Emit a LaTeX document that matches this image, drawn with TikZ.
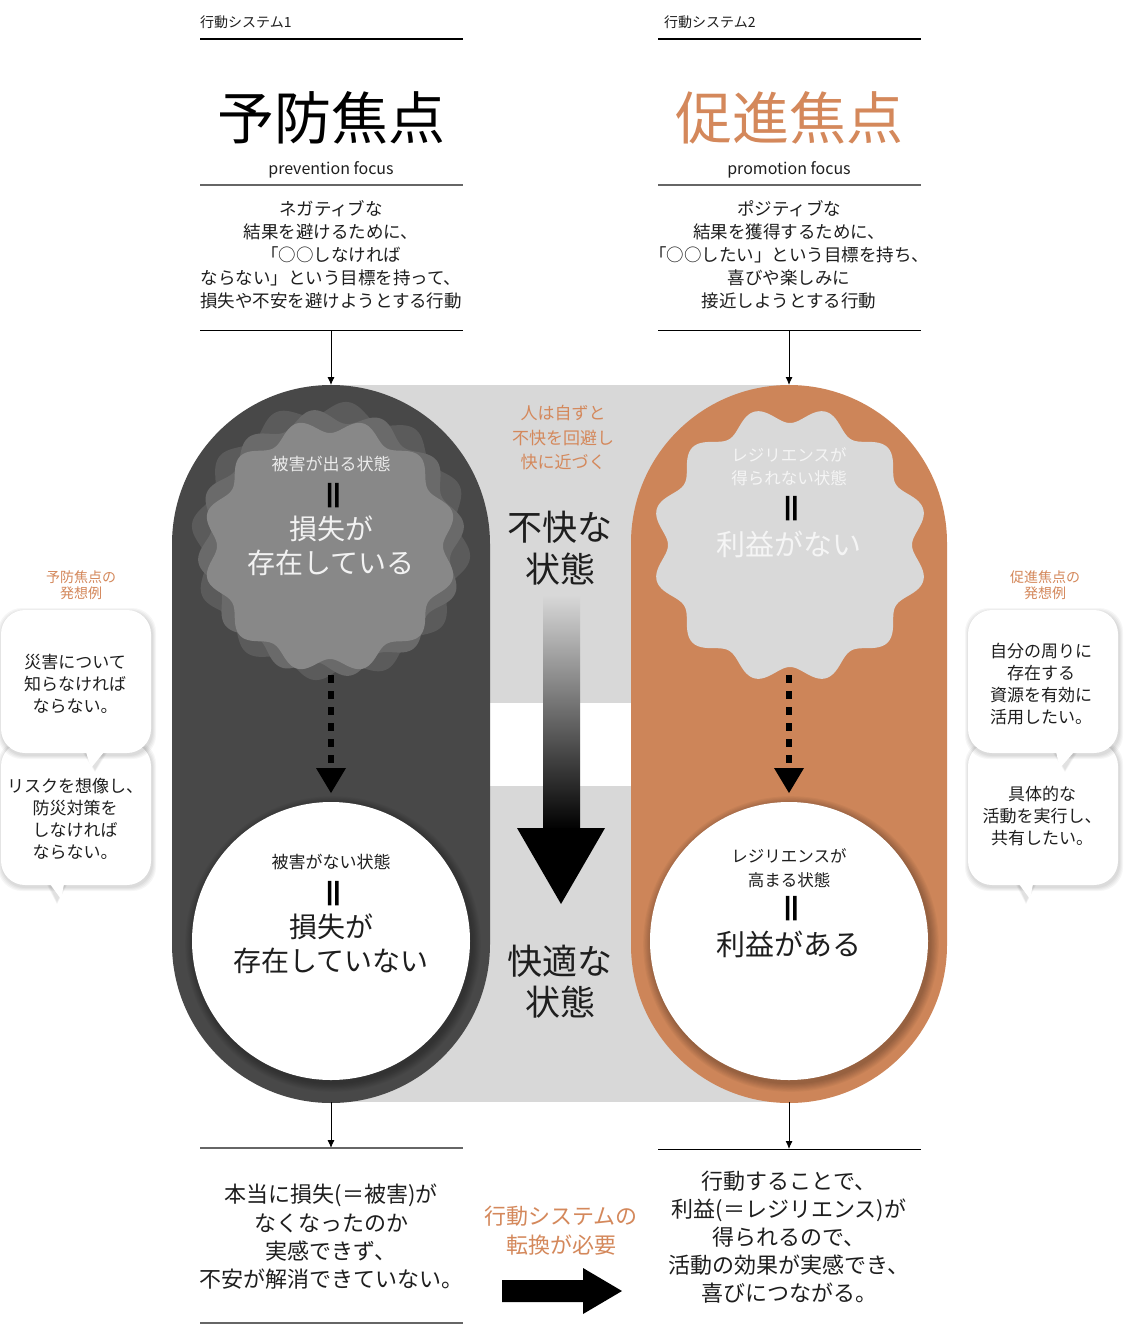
\documentclass[tikz,border=0pt]{standalone}
\usepackage{fontspec}
\setmainfont{Noto Sans CJK JP}
\newfontfamily\eqfont[FakeBold=4]{Noto Sans CJK JP}
\usetikzlibrary{arrows.meta,calc}
\definecolor{pilldark}{HTML}{484848}
\definecolor{pillorange}{HTML}{CD8559}
\definecolor{bggray}{HTML}{D8D8D8}
\definecolor{txtorange}{HTML}{D4885B}
\definecolor{wavyA}{HTML}{5B5B5B}
\definecolor{wavyB}{HTML}{6A6A6A}
\definecolor{wavyC}{HTML}{888888}
\definecolor{wavyR}{HTML}{D9D9D9}
\definecolor{txtdark}{HTML}{1E1E1E}
\newcommand{\fs}[2]{\fontsize{#1}{#2}\selectfont}
\newcommand{\softcircle}[2]{%
  \foreach \k in {1,...,8}{\fill[black, opacity=0.035] ($(#1)+(2,3)$) circle[radius={#2+\k*1.1}];}%
}
\newcommand{\bubbleshadow}[4]{%
  \foreach \k in {1,2,3,4}{\fill[black, opacity=0.035, rounded corners=24pt] ($(#1)+(1-\k,2-\k)$) rectangle ($(#2)+(1+\k,2+\k)$);}%
  \foreach \k in {1,2,3}{\fill[black, opacity=0.04] ($(#3)+(-\k,1)$) -- ($(#3)+(#4+\k,1)$) -- ($(#3)+(#4/2,17+\k)$) -- cycle;}%
}
\tikzset{
  desc/.style={align=center, text=txtdark, font=\fs{17.5}{23}, inner sep=0pt},
  smalllabel/.style={anchor=west, text=txtdark, font=\fs{14}{16}, inner sep=0pt},
  bigtitle/.style={font=\fs{57}{60}, inner sep=0pt},
  rule/.style={line width=1.1pt},
  grayrule/.style={line width=1.5pt, draw=black!60},
  thinarrow/.style={line width=0.9pt, -{Latex[length=8pt,width=7pt]}},
  eqmark/.style={rotate=90, font=\eqfont\fs{32}{32}, inner sep=0pt},
  bubbletxt/.style={align=center, text=txtdark, font=\fs{17}{22}, inner sep=0pt},
  sidelabel/.style={align=center, text=txtorange, font=\fs{14}{15.5}, inner sep=0pt},
  bottomtxt/.style={align=center, text=txtdark, font=\fs{22}{28.3}, inner sep=0pt},
}
\begin{document}
\begin{tikzpicture}[x=1pt,y=-1pt]
\useasboundingbox (0,0) rectangle (1125,1325);
\fill[white] (0,0) rectangle (1125,1325);

% ---------- header left ----------
\node[smalllabel] (sys1) at (200,22) {行動システム1};
\draw[rule] (200,39) -- (463,39);
\node[bigtitle] (t1) at (331,118) {予防焦点};
\node[font=\fs{16}{18}, text=txtdark, inner sep=0pt] (en1) at (331,170) {prevention focus};
\draw[grayrule] (200,185) -- (463,185);
\node[desc] (d1) at (331,255) {ネガティブな\\結果を避けるために、\\「○○しなければ\\ならない」という目標を持って、\\損失や不安を避けようとする行動};
\draw[line width=1pt] (200,330) -- (463,330);

% ---------- header right ----------
\node[smalllabel] (sys2) at (664,22) {行動システム2};
\draw[rule] (658,39) -- (921,39);
\node[bigtitle, text=txtorange] (t2) at (789,118) {促進焦点};
\node[font=\fs{16}{18}, text=txtdark, inner sep=0pt] (en2) at (789,170) {promotion focus};
\draw[grayrule] (658,185) -- (921,185);
\node[desc] (d2) at (789,255) {ポジティブな\\結果を獲得するために、\\「○○したい」という目標を持ち、\\喜びや楽しみに\\接近しようとする行動};
\draw[line width=1pt] (658,330) -- (921,330);

% ---------- background ----------
\fill[bggray] (331,385) rectangle (789,1102);
\fill[white] (490,703) rectangle (632,786);

% ---------- pills ----------
\fill[pilldark, rounded corners=159pt] (172,385) rectangle (490,1103);
\fill[pillorange, rounded corners=158pt] (631,385) rectangle (947,1103);

\coordinate (pillLtop) at (331,385);
\coordinate (pillRtop) at (789,385);
\coordinate (pillLbot) at (331,1102);
\coordinate (pillRbot) at (789,1102);
\draw[thinarrow] (331,330) -- (pillLtop);
\draw[thinarrow] (789,330) -- (pillRtop);

% ---------- wavy left ----------
\fill[wavyA] plot[domain=0:360, samples=361, variable=\t]
  ({331+(133-7*cos(12*(\t-8)))*cos(\t)}, {541-(133-7*cos(12*(\t-8)))*sin(\t)}) -- cycle;
\fill[wavyB] plot[domain=0:360, samples=361, variable=\t]
  ({331+(127-7*cos(12*(\t+7)))*cos(\t)}, {543-(127-7*cos(12*(\t+7)))*sin(\t)}) -- cycle;
\fill[wavyC] plot[domain=0:360, samples=361, variable=\t]
  ({330+(120-7*cos(12*\t))*cos(\t)}, {546-(120-7*cos(12*\t))*sin(\t)}) -- cycle;

% ---------- wavy right ----------
\fill[wavyR] plot[domain=0:360, samples=361, variable=\t]
  ({790+(130-8*cos(12*\t))*cos(\t)}, {545-(130-8*cos(12*\t))*sin(\t)}) -- cycle;

% wavy texts
\node[font=\fs{17}{20}, text=white!92!black, inner sep=0pt] (wl1) at (331,464) {被害が出る状態};
\node[eqmark] (wleq) at (337,495) {＝};
\node[align=center, font=\fs{28}{34}, text=white!95!black, inner sep=0pt] (wl2) at (331,546) {損失が\\存在している};

\node[align=center, font=\fs{16.5}{23}, text=white!96!black, inner sep=0pt] (wr1) at (789,467) {レジリエンスが\\得られない状態};
\node[eqmark] (wreq) at (795,508) {＝};
\node[font=\fs{29}{32}, text=white!96!black, inner sep=0pt] (wr2) at (789,544) {利益がない};

% ---------- dashed arrows ----------
\coordinate (dl1) at (331,675);
\coordinate (dl2) at (331,768);
\coordinate (dr1) at (789,675);
\coordinate (dr2) at (789,768);
\draw[line width=6pt, dash pattern=on 8pt off 8pt] (dl1) -- (dl2);
\fill (316,768) -- (346,768) -- (331,793) -- cycle;
\draw[line width=6pt, dash pattern=on 8pt off 8pt] (dr1) -- (dr2);
\fill (774,768) -- (804,768) -- (789,793) -- cycle;

% ---------- bottom circles ----------
\softcircle{331,941}{139}
\fill[white] (331,941) circle[radius=139pt];
\softcircle{789,941}{139}
\fill[white] (789,941) circle[radius=139pt];

\node[font=\fs{17}{20}, text=txtdark, inner sep=0pt] (bl1) at (331,862) {被害がない状態};
\node[eqmark] (bleq) at (337,893) {＝};
\node[align=center, font=\fs{28}{34}, text=txtdark, inner sep=0pt] (bl2) at (331,944) {損失が\\存在していない};

\node[align=center, font=\fs{16.5}{24}, text=txtdark, inner sep=0pt] (br1) at (789,868) {レジリエンスが\\高まる状態};
\node[eqmark] (breq) at (795,908) {＝};
\node[font=\fs{29}{32}, text=txtdark, inner sep=0pt] (br2) at (789,944) {利益がある};

% ---------- middle column ----------
\node[align=center, font=\fs{17}{24.5}, text=txtorange, inner sep=0pt] (mid1) at (563,438) {人は自ずと\\不快を回避し\\快に近づく};
\node[align=center, font=\fs{35}{42}, text=txtdark, inner sep=0pt] (mid2) at (560,548) {不快な\\状態};
\shade[top color=bggray, bottom color=black] (543,595) rectangle (580,830);
\fill (517,828) -- (605,828) -- (561,904) -- cycle;
\node[align=center, font=\fs{35}{41}, text=txtdark, inner sep=0pt] (mid3) at (560,982) {快適な\\状態};

% ---------- bottom ----------
\draw[thinarrow] (pillLbot) -- (331,1148);
\draw[thinarrow] (pillRbot) -- (789,1149);
\draw[grayrule] (200,1148) -- (463,1148);
\draw[line width=1pt] (658,1149) -- (921,1149);
\draw[grayrule] (200,1323) -- (463,1323);
\node[bottomtxt] (bt1) at (331,1237) {本当に損失(＝被害)が\\なくなったのか\\実感できず、\\不安が解消できていない。};
\node[bottomtxt, font=\fs{22}{28}] (bt2) at (789,1237) {行動することで、\\利益(＝レジリエンス)が\\得られるので、\\活動の効果が実感でき、\\喜びにつながる。};
\node[align=center, font=\fs{22}{29}, text=txtorange, inner sep=0pt] (bt3) at (561,1231) {行動システムの\\転換が必要};
\coordinate (ba1) at (502,1291);
\coordinate (ba2) at (622,1291);
\fill (502,1280) -- (583,1280) -- (583,1268) -- (ba2) -- (583,1314) -- (583,1302) -- (502,1302) -- cycle;

% ---------- side bubbles left ----------
\node[sidelabel] (sl) at (81,585) {予防焦点の\\発想例};
\bubbleshadow{1,742}{151,885}{50,884}{14}
\fill[white] (1,742) [rounded corners=24pt] rectangle (151,885);
\fill[white] (50,884) -- (64,884) -- (61,899) -- cycle;
\node[bubbletxt] (lb2) at (75,819) {リスクを想像し、\\防災対策を\\しなければ\\ならない。};
\bubbleshadow{1,610}{151,753}{86,752}{18}
\fill[white] (1,610) [rounded corners=24pt] rectangle (151,753);
\fill[white] (86,752) -- (104,752) -- (91,768) -- cycle;
\node[bubbletxt] (lb1) at (75,684) {災害について\\知らなければ\\ならない。};

% ---------- side bubbles right ----------
\node[sidelabel] (sr) at (1045,585) {促進焦点の\\発想例};
\bubbleshadow{968,742}{1118,885}{1019,884}{14}
\fill[white] (968,742) [rounded corners=24pt] rectangle (1118,885);
\fill[white] (1019,884) -- (1033,884) -- (1030,899) -- cycle;
\node[bubbletxt] (rb2) at (1042,816) {具体的な\\活動を実行し、\\共有したい。};
\bubbleshadow{968,610}{1118,753}{1056,752}{18}
\fill[white] (968,610) [rounded corners=24pt] rectangle (1118,753);
\fill[white] (1056,752) -- (1074,752) -- (1060,768) -- cycle;
\node[bubbletxt] (rb1) at (1041,684) {自分の周りに\\存在する\\資源を有効に\\活用したい。};
\end{tikzpicture}
\end{document}
